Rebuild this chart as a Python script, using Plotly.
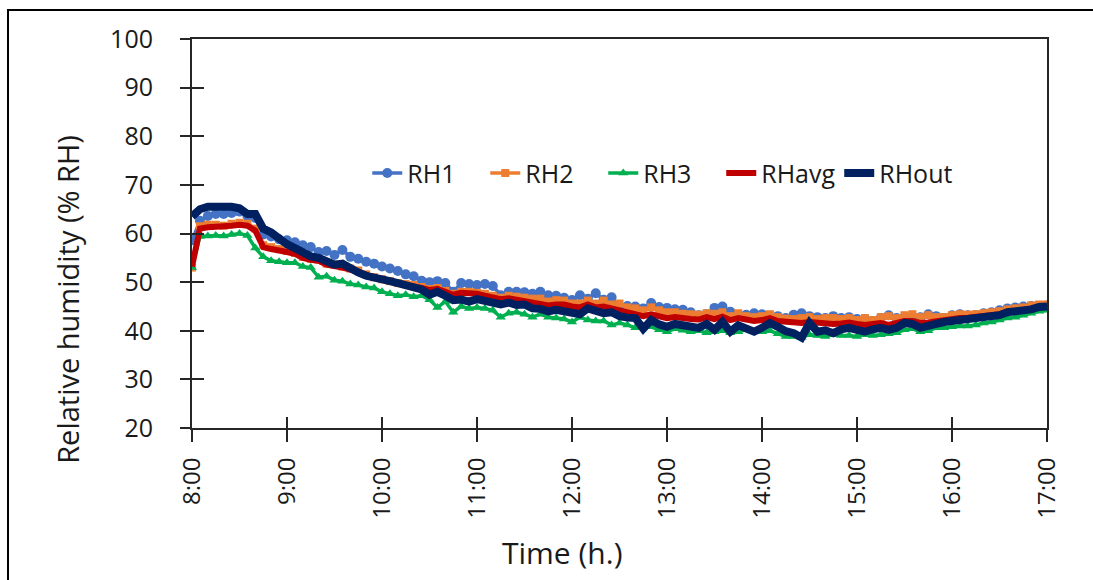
import plotly.graph_objects as go

# 5-minute samples from 8:00 to 17:00 (109 points)
hours = [8 + i * 5 / 60 for i in range(109)]
tick_vals = [8, 9, 10, 11, 12, 13, 14, 15, 16, 17]
tick_text = ["8:00", "9:00", "10:00", "11:00", "12:00", "13:00", "14:00", "15:00", "16:00", "17:00"]
y_ticks = [20, 30, 40, 50, 60, 70, 80, 90, 100]

rh1 = [
    58.6, 62.6, 63.6, 64.0, 64.0, 64.2, 64.5, 63.6, 63.2, 59.8, 59.4, 58.8,
    58.6, 58.2, 57.6, 57.2, 56.2, 56.4, 55.6, 56.6, 55.2, 54.8, 54.2, 53.8,
    53.2, 52.8, 52.3, 51.6, 51.2, 50.3, 50.0, 50.2, 49.8, 48.0, 49.8, 49.6,
    49.4, 49.6, 49.2, 47.3, 48.0, 48.0, 47.9, 47.6, 48.0, 47.3, 47.2, 46.8,
    46.3, 47.3, 46.6, 47.7, 46.4, 46.9, 45.0, 45.1, 45.0, 44.6, 45.7, 44.9,
    44.7, 44.4, 44.3, 43.8, 43.2, 43.4, 44.7, 45.0, 43.9, 43.2, 43.3, 43.6,
    43.4, 42.6, 43.0, 42.6, 43.3, 43.6, 43.0, 42.8, 42.6, 43.0, 42.6, 42.8,
    42.4, 42.4, 42.0, 42.6, 43.2, 42.6, 42.8, 42.2, 42.8, 43.4, 43.0, 42.6,
    43.2, 43.4, 43.2, 43.2, 43.6, 43.8, 44.2, 44.6, 44.8, 45.0, 45.1, 45.1,
    45.2,
]
rh2 = [
    53.0, 61.5, 61.8, 61.8, 61.6, 62.0, 62.2, 62.0, 61.0, 57.6, 57.2, 56.8,
    56.4, 56.0, 55.2, 54.8, 54.6, 53.8, 53.6, 53.2, 52.8, 52.4, 51.6, 51.0,
    50.6, 50.2, 49.8, 49.6, 49.4, 49.0, 48.6, 48.8, 48.2, 47.6, 48.0, 48.0,
    47.8, 47.6, 47.2, 46.8, 47.2, 47.0, 46.8, 46.6, 46.6, 46.0, 46.3, 46.2,
    45.6, 45.6, 46.2, 45.6, 46.2, 45.4, 45.6, 44.8, 44.6, 44.2, 44.8, 44.2,
    43.8, 43.8, 43.5, 43.4, 43.3, 43.6, 43.5, 43.8, 43.0, 43.6, 43.0, 42.8,
    43.0, 43.4, 42.8, 42.5, 42.4, 42.6, 42.8, 42.4, 42.6, 42.6, 42.4, 42.6,
    42.2, 42.6, 42.2, 42.8, 43.0, 42.6, 43.2, 43.4, 42.8, 43.2, 42.8, 42.8,
    43.2, 43.4, 43.3, 43.4, 43.6, 43.8, 44.0, 44.4, 44.6, 44.8, 45.2, 45.4,
    45.4,
]
rh3 = [
    53.0, 59.4, 59.5, 59.6, 59.5, 59.8, 60.0, 59.6, 57.0, 55.2, 54.4, 54.2,
    54.0, 54.0, 53.2, 53.0, 51.0, 51.2, 50.4, 50.2, 49.6, 49.4, 49.0, 48.8,
    48.0, 47.6, 47.2, 47.4, 47.0, 47.2, 46.4, 44.8, 46.0, 43.8, 45.0, 44.6,
    44.8, 44.6, 44.2, 42.8, 43.6, 43.8, 43.4, 42.8, 43.4, 42.8, 42.6, 42.4,
    41.8, 42.8, 42.2, 42.0, 42.0, 41.2, 41.6, 41.2, 40.6, 41.0, 40.8, 40.2,
    39.8, 40.4, 40.1, 39.8, 40.0, 39.6, 39.8, 40.0, 39.6, 39.8, 40.2, 39.8,
    39.8, 40.0, 39.4, 38.8, 38.8, 38.6, 39.2, 39.0, 38.8, 39.2, 39.0, 39.0,
    38.8, 39.2, 39.0, 39.2, 39.4, 39.6, 40.2, 40.4, 39.8, 40.0, 40.6, 40.6,
    40.8, 41.0, 41.0, 41.2, 41.6, 41.8, 42.2, 42.6, 42.8, 43.2, 43.6, 44.0,
    44.2,
]
rh_avg = [
    53.2, 61.0, 61.3, 61.4, 61.2, 61.6, 61.8, 61.6, 60.6, 57.2, 56.8, 56.6,
    56.2, 55.8, 55.0, 54.6, 54.4, 53.6, 53.4, 53.0, 52.6, 52.2, 51.5, 51.0,
    50.5, 50.0, 49.8, 49.4, 49.2, 48.8, 48.4, 48.6, 48.0, 47.4, 47.8, 47.8,
    47.6, 47.2, 46.8, 46.5, 46.7, 46.4, 46.2, 46.0, 45.8, 45.2, 45.4, 45.4,
    45.0, 44.8, 45.4, 44.8, 45.0, 44.6, 44.2, 43.8, 43.6, 43.0, 43.4, 43.0,
    42.6, 42.8, 42.5, 42.4, 42.3, 42.8, 42.4, 42.9, 42.2, 42.6, 42.3, 42.0,
    42.2, 42.6, 42.0, 41.8, 41.6, 41.6, 41.8, 41.6, 41.6, 41.4, 41.5, 41.7,
    41.4, 41.2, 41.4, 41.6, 41.2, 41.6, 42.0, 42.0, 41.6, 41.7, 42.0, 42.2,
    42.4, 42.6, 42.7, 42.8, 42.9, 43.1, 43.4, 43.8, 44.0, 44.2, 44.4, 44.8,
    45.0,
]
rh_out = [
    63.5, 65.0, 65.5, 65.6, 65.4, 65.5, 65.2, 64.0, 64.0, 61.0, 60.2, 58.8,
    57.8, 57.0, 56.0, 55.3, 55.0, 54.2, 53.6, 53.8, 52.8, 52.0, 51.3, 50.8,
    50.6, 50.2, 49.8, 49.5, 48.8, 48.5, 47.4, 48.0, 47.2, 46.3, 46.4, 46.0,
    46.5, 46.2, 45.6, 45.4, 45.8, 45.3, 45.4, 44.6, 44.5, 44.0, 44.3, 44.0,
    43.9, 43.4, 44.6, 44.0, 43.6, 43.8, 43.0, 42.7, 42.6, 40.4, 42.2, 41.3,
    40.8, 41.4, 41.0, 40.7, 40.6, 41.4, 40.2, 41.8, 39.8, 41.1, 40.4, 39.8,
    40.6, 41.6, 40.8, 39.9, 39.5, 38.6, 41.6, 39.8, 40.1, 39.5, 40.3, 40.6,
    40.2, 39.8, 40.3, 40.6, 40.2, 40.6, 41.6, 41.4, 40.6, 40.8, 41.4, 41.8,
    42.0, 42.3, 42.4, 42.6, 42.7, 42.9, 43.2, 43.8, 43.9, 44.2, 44.4, 44.9,
    45.0,
]

FONT = "Open Sans, Noto Sans, DejaVu Sans, sans-serif"
TXT = "#1a1a1a"
fig = go.Figure()

fig.add_trace(go.Scatter(x=hours, y=rh1, name="RH1", mode="lines+markers",
                         line=dict(color="#4472C4", width=3.5),
                         marker=dict(symbol="circle", size=10, color="#4472C4")))
fig.add_trace(go.Scatter(x=hours, y=rh2, name="RH2", mode="lines+markers",
                         line=dict(color="#ED7D31", width=3.5),
                         marker=dict(symbol="square", size=8, color="#ED7D31")))
fig.add_trace(go.Scatter(x=hours, y=rh3, name="RH3", mode="lines+markers",
                         line=dict(color="#00B050", width=3.5),
                         marker=dict(symbol="triangle-up", size=9, color="#00B050")))
fig.add_trace(go.Scatter(x=hours, y=rh_avg, name="RHavg", mode="lines",
                         line=dict(color="#C00000", width=6)))
fig.add_trace(go.Scatter(x=hours, y=rh_out, name="RHout", mode="lines",
                         line=dict(color="#002060", width=8)))

# invisible trace so that the overlay axes (inside tick halves) are drawn
fig.add_trace(go.Scatter(x=[hours[0]], y=[rh1[0]], xaxis="x2", yaxis="y2",
                         mode="markers", marker=dict(opacity=0),
                         showlegend=False, hoverinfo="skip"))

axis_common = dict(showgrid=False, zeroline=False, showline=True,
                   linecolor="#262626", linewidth=2, mirror=True,
                   tickcolor="#262626", tickwidth=2)

fig.update_layout(
    width=1093, height=580,
    margin=dict(l=192, r=46, t=39, b=152),
    paper_bgcolor="white", plot_bgcolor="white",
    font=dict(family=FONT, size=24, color=TXT),
    xaxis=dict(range=[8, 17], tickvals=tick_vals, ticktext=tick_text,
               tickangle=-90, ticks="outside", ticklen=12, ticklabelstandoff=6,
               tickfont=dict(size=24, color=TXT), **axis_common),
    yaxis=dict(range=[20, 100], tickvals=y_ticks, ticks="outside", ticklen=10,
               ticklabelstandoff=22,
               tickfont=dict(size=25, color=TXT), **axis_common),
    xaxis2=dict(overlaying="x", matches="x", range=[8, 17], tickvals=tick_vals,
                showticklabels=False, ticks="inside", ticklen=11, side="bottom",
                showgrid=False, zeroline=False, showline=False,
                tickcolor="#262626", tickwidth=2),
    yaxis2=dict(overlaying="y", matches="y", range=[20, 100], tickvals=y_ticks,
                showticklabels=False, ticks="inside", ticklen=12, side="left",
                showgrid=False, zeroline=False, showline=False,
                tickcolor="#262626", tickwidth=2),
    legend=dict(orientation="h", x=0.205, y=0.655, xanchor="left", yanchor="middle",
                bgcolor="rgba(0,0,0,0)", font=dict(size=25, color=TXT),
                entrywidth=0.138, entrywidthmode="fraction", tracegroupgap=0),
    showlegend=True,
    shapes=[dict(type="rect", xref="paper", yref="paper",
                 x0=-0.2152, x1=1.08, y0=-0.45, y1=1.0746,
                 line=dict(color="black", width=2), fillcolor="rgba(0,0,0,0)",
                 layer="below")],
    annotations=[
        dict(text="Time (h.)", xref="paper", yref="paper", x=0.433, y=-0.319,
             showarrow=False, font=dict(size=30, color=TXT),
             xanchor="center", yanchor="middle"),
        dict(text="Relative humidity (% RH)", xref="paper", yref="paper",
             x=-0.146, y=0.33, textangle=-90, showarrow=False,
             font=dict(size=29, color=TXT),
             xanchor="center", yanchor="middle"),
    ],
)

fig.write_html("out.html")
